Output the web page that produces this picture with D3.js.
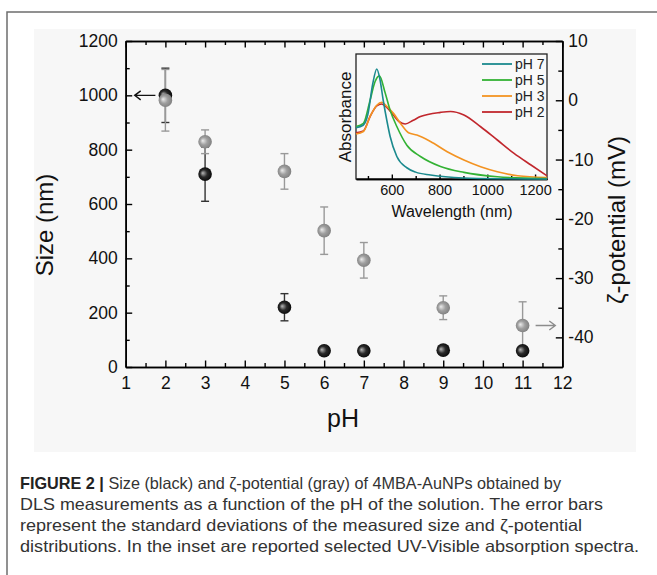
<!DOCTYPE html>
<html>
<head>
<meta charset="utf-8">
<script src="https://cdn.jsdelivr.net/npm/d3@7/dist/d3.min.js"></script>
<style>
  body { margin: 0; background: #fff; }
  svg { display: block; font-family: "Liberation Sans", Arial, sans-serif; }
</style>
</head>
<body>
<svg id="chart" width="657" height="575"></svg>
<script>
(function() {
"use strict";

// main plot: size (black) and zeta potential (gray) vs pH
var pH = [2, 3, 5, 6, 7, 9, 11];
var sizeNm = [1000, 710, 220, 60, 60, 62, 60];
var sizeErr = [100, 100, 50, 8, 8, 8, 8];
var zetaMv = [0, -7, -12, -22, -27, -35, -38];
var zetaErr = [5.2, 2, 3, 4, 3, 2, 4];

var pHTicks = [1, 2, 3, 4, 5, 6, 7, 8, 9, 10, 11, 12];
var sizeTicks = [0, 200, 400, 600, 800, 1000, 1200];
var zetaTicks = [-40, -30, -20, -10, 0, 10];

// inset: UV-Vis spectra [wavelength nm, absorbance]
var specPH7 = [[450,0.41],[480,0.43],[500,0.52],[520,0.76],[537,0.88],[550,0.80],[564,0.63],[580,0.46],[593,0.34],[621,0.18],[663,0.09],[700,0.055],[762,0.032],[900,0.008],[1050,0.002],[1250,0]];
var specPH5 = [[450,0.42],[481,0.445],[509,0.63],[530,0.78],[548,0.825],[572,0.69],[593,0.55],[621,0.42],[663,0.27],[720,0.18],[804,0.10],[902,0.053],[1042,0.018],[1183,0.006],[1250,0.003]];
var specPH3 = [[450,0.36],[481,0.38],[509,0.50],[537,0.59],[558,0.614],[580,0.58],[607,0.525],[642,0.43],[670,0.37],[705,0.352],[762,0.30],[832,0.218],[902,0.152],[972,0.098],[1042,0.058],[1127,0.026],[1250,0.012]];
var specPH2 = [[450,0.37],[481,0.385],[509,0.50],[537,0.585],[558,0.60],[580,0.57],[607,0.51],[630,0.46],[656,0.44],[690,0.47],[720,0.50],[804,0.533],[846,0.54],[902,0.512],[972,0.418],[1042,0.312],[1112,0.205],[1183,0.112],[1250,0.026]];
var specLabels = ["pH 7", "pH 5", "pH 3", "pH 2"];
var wlTicks = [600, 800, 1000, 1200];

var caption = [
  "Size (black) and \u03b6-potential (gray) of 4MBA-AuNPs obtained by",
  "DLS measurements as a function of the pH of the solution. The error bars",
  "represent the standard deviations of the measured size and \u03b6-potential",
  "distributions. In the inset are reported selected UV-Visible absorption spectra."
];

var svg = d3.select("#chart");
var plain = function(d) { return String(d); };   // no thousands comma, ascii minus

var x = d3.scaleLinear().domain([1, 12]).range([125.7, 562.3]);
var ySize = d3.scaleLinear().domain([0, 1200]).range([367, 41]);
var yZeta = d3.scaleLinear().domain([-45, 10]).range([367, 41]);

// frame + panel
svg.append("path")
  .attr("d", "M7,575V12H657")
  .attr("fill", "none")
  .attr("stroke", "#6e6e6e")
  .attr("stroke-width", 1.5);
svg.append("rect")
  .attr("x", 34).attr("y", 29).attr("width", 602).attr("height", 423)
  .attr("fill", "#f7f7f7");

// gradients for the ball markers
var defs = svg.append("defs");
ball("ballBlack", ["#b8b8b8", "#2a2a2a", "#000"]);
ball("ballGray", ["#ececec", "#a0a0a0", "#777"]);

function ball(id, cols) {
  var g = defs.append("radialGradient").attr("id", id)
    .attr("cx", "0.5").attr("cy", "0.5").attr("r", "0.6")
    .attr("fx", "0.32").attr("fy", "0.42");
  g.append("stop").attr("offset", "0").attr("stop-color", cols[0]);
  g.append("stop").attr("offset", "0.45").attr("stop-color", cols[1]);
  g.append("stop").attr("offset", "1").attr("stop-color", cols[2]);
}

// axes
var axes = svg.append("g").attr("class", "axes");

function styleAxis(g) {
  g.select(".domain").attr("stroke", "#000").attr("stroke-width", 1.6);
  g.selectAll(".tick line").attr("stroke", "#000").attr("stroke-width", 1.4);
  g.selectAll("text").attr("font-size", 17.5).attr("fill", "#111");
}

axes.append("g")
  .attr("transform", "translate(0," + ySize(0) + ")")
  .call(d3.axisBottom(x).tickValues(d3.range(1.5, 12, 1)).tickSize(-4).tickFormat("").tickSizeOuter(0))
  .call(styleAxis);
axes.append("g")
  .attr("transform", "translate(0," + ySize(0) + ")")
  .call(d3.axisBottom(x).tickValues(pHTicks).tickSize(-6.5).tickPadding(10).tickSizeOuter(0).tickFormat(plain))
  .call(styleAxis);

axes.append("g")
  .attr("transform", "translate(0," + ySize(1200) + ")")
  .call(d3.axisTop(x).tickValues(d3.range(1.5, 12, 1)).tickSize(-4).tickFormat("").tickSizeOuter(0))
  .call(styleAxis);
axes.append("g")
  .attr("transform", "translate(0," + ySize(1200) + ")")
  .call(d3.axisTop(x).tickValues(pHTicks).tickSize(-6.5).tickFormat("").tickSizeOuter(0))
  .call(styleAxis);

axes.append("g")
  .attr("transform", "translate(" + x(1) + ",0)")
  .call(d3.axisLeft(ySize).tickValues(d3.range(100, 1200, 200)).tickSize(-4).tickFormat("").tickSizeOuter(0))
  .call(styleAxis);
axes.append("g")
  .attr("transform", "translate(" + x(1) + ",0)")
  .call(d3.axisLeft(ySize).tickValues(sizeTicks).tickSize(-6.5).tickPadding(8).tickSizeOuter(0).tickFormat(plain))
  .call(styleAxis);

axes.append("g")
  .attr("transform", "translate(" + x(12) + ",0)")
  .call(d3.axisRight(yZeta).tickValues([-35, -25, -15, -5, 5]).tickSize(-4).tickFormat("").tickSizeOuter(0))
  .call(styleAxis);
axes.append("g")
  .attr("transform", "translate(" + x(12) + ",0)")
  .call(d3.axisRight(yZeta).tickValues(zetaTicks).tickSize(-6.5).tickPadding(6).tickSizeOuter(0).tickFormat(plain))
  .call(styleAxis);

// axis titles
svg.append("text")
  .attr("transform", "translate(53,225) rotate(-90)")
  .attr("text-anchor", "middle")
  .attr("font-size", 24).attr("fill", "#111")
  .text("Size (nm)");
svg.append("text")
  .attr("transform", "translate(625,220) rotate(-90)")
  .attr("text-anchor", "middle")
  .attr("font-size", 24).attr("fill", "#111")
  .text("\u03b6-potential (mV)");
svg.append("text")
  .attr("x", 343).attr("y", 427)
  .attr("text-anchor", "middle")
  .attr("font-size", 25).attr("fill", "#111")
  .text("pH");

// inset
var xi = d3.scaleLinear().domain([450, 1250]).range([356, 547]);
var yi = d3.scaleLinear().domain([0, 1]).range([179, 54]);

var inset = svg.append("g").attr("class", "inset");
inset.append("rect")
  .attr("x", xi(450)).attr("y", yi(1))
  .attr("width", xi(1250) - xi(450)).attr("height", yi(0) - yi(1))
  .attr("fill", "#f9f9f9").attr("stroke", "#222").attr("stroke-width", 1.3);

inset.append("g")
  .attr("transform", "translate(0," + yi(0) + ")")
  .call(d3.axisBottom(xi).tickValues(d3.range(500, 1250, 200)).tickSize(-3).tickFormat("").tickSizeOuter(0))
  .call(styleAxis);
inset.append("g")
  .attr("transform", "translate(0," + yi(0) + ")")
  .call(d3.axisBottom(xi).tickValues(wlTicks).tickSize(-4.5).tickPadding(6).tickSizeOuter(0).tickFormat(plain))
  .call(styleAxis)
  .call(function(g) {
    g.select(".domain").attr("stroke-width", 1.3);
    g.selectAll("text").attr("font-size", 14.5);
  });

inset.append("text")
  .attr("x", 452).attr("y", 217)
  .attr("text-anchor", "middle")
  .attr("font-size", 16).attr("fill", "#111")
  .text("Wavelength (nm)");
inset.append("text")
  .attr("transform", "translate(351,117) rotate(-90)")
  .attr("text-anchor", "middle")
  .attr("font-size", 17).attr("fill", "#111")
  .text("Absorbance");

var spectra = [specPH7, specPH5, specPH3, specPH2];
var specColors = ["#1b8a8e", "#33b234", "#f39322", "#c1272d"];

var line = d3.line()
  .x(function(d) { return xi(d[0]); })
  .y(function(d) { return yi(d[1]); })
  .curve(d3.curveMonotoneX);

// draw red first so the others sit on top like the original
[3, 2, 1, 0].forEach(function(i) {
  inset.append("path")
    .datum(spectra[i])
    .attr("d", line)
    .attr("fill", "none")
    .attr("stroke", specColors[i])
    .attr("stroke-width", 1.6);
});

var legend = inset.selectAll("g.leg")
  .data(specLabels)
  .enter().append("g")
  .attr("class", "leg")
  .attr("transform", function(d, i) { return "translate(482," + (64 + i * 16) + ")"; });
legend.append("line")
  .attr("x1", 0).attr("x2", 30)
  .attr("stroke", function(d, i) { return specColors[i]; })
  .attr("stroke-width", 1.8);
legend.append("text")
  .attr("x", 33).attr("dy", "0.35em")
  .attr("font-size", 14).attr("fill", "#222")
  .text(function(d) { return d; });

// error bars
var points = pH.map(function(p, i) {
  return { pH: p, size: sizeNm[i], sErr: sizeErr[i], zeta: zetaMv[i], zErr: zetaErr[i] };
});

function errBars(key, err, scale, color) {
  var g = svg.append("g").attr("stroke", color).attr("stroke-width", 1.4).attr("fill", "none");
  points.forEach(function(d) {
    var cx = x(d.pH);
    var top = scale(d[key] + d[err]), bot = scale(d[key] - d[err]);
    g.append("line").attr("x1", cx).attr("x2", cx).attr("y1", top).attr("y2", bot);
    g.append("line").attr("x1", cx - 4).attr("x2", cx + 4).attr("y1", top).attr("y2", top);
    g.append("line").attr("x1", cx - 4).attr("x2", cx + 4).attr("y1", bot).attr("y2", bot);
  });
}

errBars("size", "sErr", ySize, "#333");
errBars("zeta", "zErr", yZeta, "#999");

svg.append("g").selectAll("circle")
  .data(points)
  .enter().append("circle")
  .attr("cx", function(d) { return x(d.pH); })
  .attr("cy", function(d) { return ySize(d.size); })
  .attr("r", 6.8)
  .attr("fill", "url(#ballBlack)");

svg.append("g").selectAll("circle")
  .data(points)
  .enter().append("circle")
  .attr("cx", function(d) { return x(d.pH); })
  .attr("cy", function(d) { return yZeta(d.zeta); })
  .attr("r", 6.8)
  .attr("fill", "url(#ballGray)");

// arrows telling which axis each series uses
arrow(x(2) - 10, x(1) + 9, ySize(sizeNm[0]), "#111");
arrow(x(11) + 13, x(12) - 7, yZeta(zetaMv[6]), "#8c8c8c");

function arrow(x1, x2, y, color) {
  var dir = x2 > x1 ? -1 : 1;
  svg.append("path")
    .attr("d", "M" + x1 + "," + y + "H" + x2 +
      "M" + (x2 + dir * 6) + "," + (y - 4.5) + "L" + x2 + "," + y + "L" + (x2 + dir * 6) + "," + (y + 4.5))
    .attr("fill", "none")
    .attr("stroke", color)
    .attr("stroke-width", 1.4);
}

// caption
var cap = svg.append("g").attr("fill", "#333").attr("font-size", 16.5);
var capEnds = [561, 603, 582, 639];
caption.forEach(function(t, i) {
  var txt = cap.append("text")
    .attr("x", 20).attr("y", 489 + i * 21)
    .attr("textLength", capEnds[i] - 20)
    .attr("lengthAdjust", "spacingAndGlyphs");
  if (i === 0) {
    txt.append("tspan").attr("font-weight", "bold").attr("fill", "#222").text("FIGURE 2 | ");
  }
  txt.append("tspan").text(t);
});

})();
</script>
</body>
</html>
